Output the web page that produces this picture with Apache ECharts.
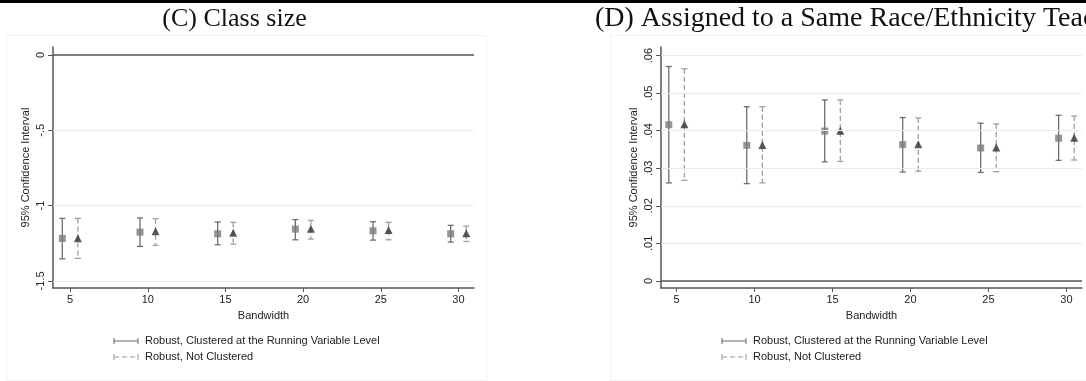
<!DOCTYPE html>
<html>
<head>
<meta charset="utf-8">
<script src="https://cdn.jsdelivr.net/npm/echarts@6/dist/echarts.min.js"></script>
<style>
  html, body { margin: 0; padding: 0; background: #fff; }
  #chart { width: 1086px; height: 381px; }
</style>
</head>
<body>
<div id="chart"></div>
<script>
// Bandwidths used for the RD estimates
const bandwidths = [5, 10, 15, 20, 25, 30];

// (C) Class size: point estimates and 95% CI bounds
const classClusteredEst = [-1.218, -1.176, -1.187, -1.156, -1.167, -1.187];
const classClusteredLo  = [-1.353, -1.271, -1.260, -1.227, -1.229, -1.242];
const classClusteredHi  = [-1.085, -1.082, -1.109, -1.093, -1.107, -1.131];
const classPlainEst     = [-1.216, -1.170, -1.180, -1.154, -1.162, -1.184];
const classPlainLo      = [-1.350, -1.264, -1.256, -1.222, -1.227, -1.238];
const classPlainHi      = [-1.085, -1.087, -1.111, -1.098, -1.111, -1.136];

// (D) Assigned to a same race/ethnicity teacher
const raceClusteredEst = [0.0416, 0.0361, 0.0399, 0.0363, 0.0354, 0.0380];
const raceClusteredLo  = [0.0261, 0.0259, 0.0317, 0.0290, 0.0289, 0.0321];
const raceClusteredHi  = [0.0571, 0.0464, 0.0482, 0.0435, 0.0420, 0.0441];
const racePlainEst     = [0.0417, 0.0362, 0.0400, 0.0364, 0.0355, 0.0381];
const racePlainLo      = [0.0268, 0.0261, 0.0318, 0.0292, 0.0291, 0.0322];
const racePlainHi      = [0.0565, 0.0464, 0.0482, 0.0434, 0.0418, 0.0439];

// Axis ticks and their printed labels
const xTicks = [5, 10, 15, 20, 25, 30];
const classYTicks = [0, -0.5, -1, -1.5];
const classYLabels = ['0', '-.5', '-1', '-1.5'];
const raceYTicks = [0, 0.01, 0.02, 0.03, 0.04, 0.05, 0.06];
const raceYLabels = ['0', '.01', '.02', '.03', '.04', '.05', '.06'];

const legendLabels = ['Robust, Clustered at the Running Variable Level', 'Robust, Not Clustered'];
const panelTitles = ['(C) Class size', '(D) Assigned to a Same Race/Ethnicity Teacher'];

const FONT = 'Liberation Sans, Arial, sans-serif';
const SERIF = 'Liberation Serif, Times New Roman, serif';
const SHIFT = 0.5; // horizontal nudge separating the two estimates at each bandwidth

function labelFor(ticks, labels) {
  return function (v) {
    for (let i = 0; i < ticks.length; i++) {
      if (Math.abs(ticks[i] - v) < 1e-9) return labels[i];
    }
    return '';
  };
}

function xAxisFor(gridIndex, min, max) {
  return {
    type: 'value', gridIndex, min, max,
    name: 'Bandwidth', nameLocation: 'middle', nameGap: 22,
    nameTextStyle: { fontFamily: FONT, fontSize: 11, color: '#222' },
    axisLine: { onZero: false, lineStyle: { color: '#555', width: 1.5 } },
    axisTick: { show: true, length: 4, customValues: xTicks, lineStyle: { color: '#555' } },
    axisLabel: { customValues: xTicks, fontFamily: FONT, fontSize: 11, color: '#222', margin: 6 },
    splitLine: { show: false }
  };
}

function yAxisFor(gridIndex, min, max, ticks, labels) {
  return {
    type: 'value', gridIndex, min, max,
    name: '95% Confidence Interval', nameLocation: 'middle', nameRotate: 90, nameGap: 22,
    nameTextStyle: { fontFamily: FONT, fontSize: 11, color: '#222' },
    axisLine: { show: true, onZero: false, lineStyle: { color: '#555', width: 1.5 } },
    axisTick: { show: true, length: 5, customValues: ticks, lineStyle: { color: '#555' } },
    axisLabel: {
      customValues: ticks, rotate: 90, fontFamily: FONT, fontSize: 11, color: '#222', margin: 7,
      formatter: labelFor(ticks, labels)
    },
    splitLine: { show: false }
  };
}

function bars(name, xIdx, lo, hi, shift, color, dashed) {
  return {
    name, type: 'custom', xAxisIndex: xIdx, yAxisIndex: xIdx, silent: true, z: 3,
    data: bandwidths.map((b, i) => [b + shift, lo[i], hi[i]]),
    renderItem: function (params, api) {
      const top = api.coord([api.value(0), api.value(2)]);
      const bot = api.coord([api.value(0), api.value(1)]);
      const half = 3;
      const style = { stroke: color, lineWidth: 1.3, lineDash: dashed ? [5, 3] : null };
      const capStyle = { stroke: color, lineWidth: 1.3 };
      return {
        type: 'group',
        children: [
          { type: 'line', shape: { x1: top[0], y1: top[1], x2: bot[0], y2: bot[1] }, style },
          { type: 'line', shape: { x1: top[0] - half, y1: top[1], x2: top[0] + half, y2: top[1] }, style: capStyle },
          { type: 'line', shape: { x1: bot[0] - half, y1: bot[1], x2: bot[0] + half, y2: bot[1] }, style: capStyle }
        ]
      };
    }
  };
}

function points(name, xIdx, est, shift, symbol, size, color) {
  return {
    name, type: 'scatter', xAxisIndex: xIdx, yAxisIndex: xIdx, silent: true, z: 4,
    symbol, symbolSize: size, itemStyle: { color },
    data: bandwidths.map((b, i) => [b + shift, est[i]])
  };
}

function refLines(xIdx, grid) {
  return {
    type: 'line', xAxisIndex: xIdx, yAxisIndex: xIdx, data: [], silent: true, z: 1,
    markLine: {
      silent: true, symbol: 'none', label: { show: false },
      data: grid.map(v => ({ yAxis: v, lineStyle: { color: '#ebebeb', width: 1, type: 'solid' } }))
        .concat([{ yAxis: 0, lineStyle: { color: '#555', width: 1.5, type: 'solid' } }])
    }
  };
}

// Legend keys drawn as small horizontal capped segments
function legendKey(x, y, color, dashed) {
  return [
    { type: 'line', shape: { x1: x, y1: y, x2: x + 24, y2: y }, style: { stroke: color, lineWidth: 1, lineDash: dashed ? [5, 3] : null } },
    { type: 'line', shape: { x1: x, y1: y - 3, x2: x, y2: y + 3 }, style: { stroke: color, lineWidth: 1 } },
    { type: 'line', shape: { x1: x + 24, y1: y - 3, x2: x + 24, y2: y + 3 }, style: { stroke: color, lineWidth: 1 } }
  ];
}

function legendBlock(x, y) {
  return [].concat(
    legendKey(x, y, '#666', false),
    legendKey(x, y + 16, '#999', true),
    [
      { type: 'text', x: x + 31, y: y, style: { text: legendLabels[0], font: '11px ' + FONT, fill: '#222', textVerticalAlign: 'middle' } },
      { type: 'text', x: x + 31, y: y + 16, style: { text: legendLabels[1], font: '11px ' + FONT, fill: '#222', textVerticalAlign: 'middle' } }
    ]
  );
}

const chart = echarts.init(document.getElementById('chart'), null, { renderer: 'canvas' });

chart.setOption({
  backgroundColor: '#fff',
  animation: false,
  grid: [
    { left: 53, top: 47, width: 421, height: 241, containLabel: false },
    { left: 661, top: 47, width: 421, height: 241, containLabel: false }
  ],
  xAxis: [xAxisFor(0, 3.9, 31), xAxisFor(1, 4.0, 31)],
  yAxis: [
    yAxisFor(0, -1.547, 0.053, classYTicks, classYLabels),
    yAxisFor(1, -0.0019, 0.0623, raceYTicks, raceYLabels)
  ],
  series: [
    refLines(0, [-0.5, -1, -1.5]),
    refLines(1, [0.01, 0.02, 0.03, 0.04, 0.05, 0.06]),
    bars(legendLabels[0], 0, classClusteredLo, classClusteredHi, -SHIFT, '#6e6e6e', false),
    bars(legendLabels[1], 0, classPlainLo, classPlainHi, SHIFT, '#a0a0a0', true),
    points(legendLabels[0], 0, classClusteredEst, -SHIFT, 'rect', 7, '#7a7a7a'),
    points(legendLabels[1], 0, classPlainEst, SHIFT, 'triangle', 8, '#2e2e2e'),
    bars(legendLabels[0], 1, raceClusteredLo, raceClusteredHi, -SHIFT, '#6e6e6e', false),
    bars(legendLabels[1], 1, racePlainLo, racePlainHi, SHIFT, '#a0a0a0', true),
    points(legendLabels[0], 1, raceClusteredEst, -SHIFT, 'rect', 7, '#7a7a7a'),
    points(legendLabels[1], 1, racePlainEst, SHIFT, 'triangle', 8, '#2e2e2e')
  ],
  graphic: [].concat(
    [
      { type: 'rect', z: -10, silent: true, shape: { x: 0, y: 0, width: 1086, height: 3 }, style: { fill: '#000' } },
      { type: 'rect', z: -10, silent: true, shape: { x: 6.5, y: 35.5, width: 480, height: 345 }, style: { fill: 'none', stroke: '#f3f3f3' } },
      { type: 'rect', z: -10, silent: true, shape: { x: 610.5, y: 35.5, width: 500, height: 345 }, style: { fill: 'none', stroke: '#f3f3f3' } },
      { type: 'text', x: 234.5, y: 19, style: { text: panelTitles[0], font: '26px ' + SERIF, fill: '#111', textAlign: 'center', textVerticalAlign: 'middle' } },
      { type: 'text', x: 595, y: 19, style: { text: panelTitles[1], font: '28px ' + SERIF, fill: '#111', textAlign: 'left', textVerticalAlign: 'middle' } }
    ],
    legendBlock(114, 341),
    legendBlock(722, 341)
  )
});
</script>
</body>
</html>
